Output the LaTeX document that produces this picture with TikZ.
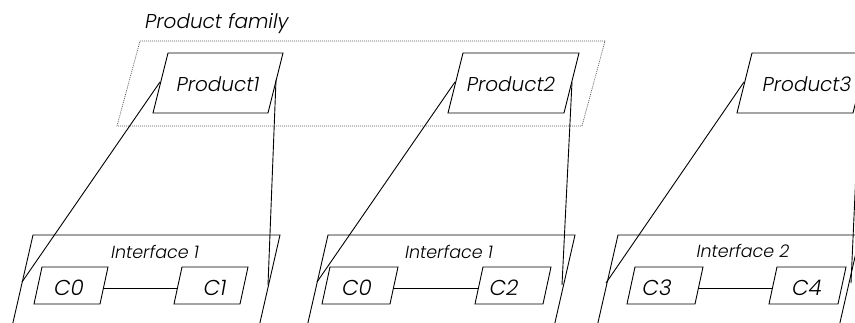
\documentclass[tikz,border=0pt]{standalone}
\usepackage{fontspec}
\setmainfont{Poppins Light}[ItalicFont={Poppins Light Italic}]
\begin{document}
\begin{tikzpicture}[x=1pt,y=-1pt,
  edge/.style={draw=black,line width=0.9pt},
  frame/.style={draw=black!65,line width=0.7pt,dash pattern=on 1pt off 1pt},
  big/.style={font=\fontsize{20}{22}\selectfont\itshape,inner sep=0pt},
  comp/.style={font=\fontsize{21.5}{24}\selectfont\itshape,inner sep=0pt},
  small/.style={font=\fontsize{17.5}{20}\selectfont\itshape,inner sep=0pt}]
\useasboundingbox (0,0) rectangle (855,322);
\clip (0,0) rectangle (855,322);
% product family frame
\draw[frame] (140,41) -- (605,41) -- (582,126) -- (117,126) -- cycle;
\node[big,anchor=base west] (fam) at (145,28) {Product family};
% product boxes
\draw[edge] (168,53) -- (283,53) -- (268,113) -- (153,113) -- cycle;
\draw[edge] (463,53) -- (579,53) -- (564,113) -- (448,113) -- cycle;
\draw[edge] (752,53) -- (868,53) -- (853,113) -- (737,113) -- cycle;
\node[big] (p1) at (218,84) {Product1};
\node[big] (p2) at (511,84) {Product2};
\node[big] (p3) at (807,84) {Product3};
% interfaces
\draw[edge] (33,235) -- (280,235) -- (256,340) -- (9,340) -- cycle;
\draw[edge] (328,235) -- (575,235) -- (551,340) -- (304,340) -- cycle;
\draw[edge] (618,235) -- (860,235) -- (836,340) -- (594,340) -- cycle;
\node[small] (i1) at (155,252) {Interface 1};
\node[small] (i2) at (449,252) {Interface 1};
\node[small] (i3) at (743,251) {Interface 2};
% component boxes
\draw[edge] (42,267) -- (108,267) -- (100,304) -- (34,304) -- cycle;
\draw[edge] (182,267) -- (248,267) -- (240,304) -- (174,304) -- cycle;
\draw[edge] (330,267) -- (398,267) -- (390,304) -- (322,304) -- cycle;
\draw[edge] (483,267) -- (551,267) -- (543,304) -- (475,304) -- cycle;
\draw[edge] (635,267) -- (703,267) -- (695,304) -- (627,304) -- cycle;
\draw[edge] (777,267) -- (846,267) -- (838,304) -- (769,304) -- cycle;
\node[comp] (c0a) at (69,288) {C0};
\node[comp] (c1) at (215,288) {C1};
\node[comp] (c0b) at (357,288) {C0};
\node[comp] (c2) at (504,288) {C2};
\node[comp] (c3) at (657,288) {C3};
\node[comp] (c4) at (807,288) {C4};
% connector end points on box edges
\coordinate (c0aR) at (103.5,288);
\coordinate (c1L) at (177.5,288);
\coordinate (c0bR) at (393.5,288);
\coordinate (c2L) at (478.5,288);
\coordinate (c3R) at (698.5,288);
\coordinate (c4L) at (772.5,288);
\draw[edge] (c0aR) -- (c1L);
\draw[edge] (c0bR) -- (c2L);
\draw[edge] (c3R) -- (c4L);
% projection lines
\coordinate (p1L) at (160,82);  \coordinate (i1L) at (22,282);
\coordinate (p1R) at (276,80);  \coordinate (i1R) at (268,285);
\coordinate (p2L) at (455,82);  \coordinate (i2L) at (317,282);
\coordinate (p2R) at (572,82);  \coordinate (i2R) at (562,285);
\coordinate (p3L) at (744,82);  \coordinate (i3L) at (606,283);
\coordinate (p3R) at (860,83);  \coordinate (i3R) at (851,283);
\draw[edge] (p1L) -- (i1L);
\draw[edge] (p1R) -- (i1R);
\draw[edge] (p2L) -- (i2L);
\draw[edge] (p2R) -- (i2R);
\draw[edge] (p3L) -- (i3L);
\draw[edge] (p3R) -- (i3R);
\end{tikzpicture}
\end{document}
